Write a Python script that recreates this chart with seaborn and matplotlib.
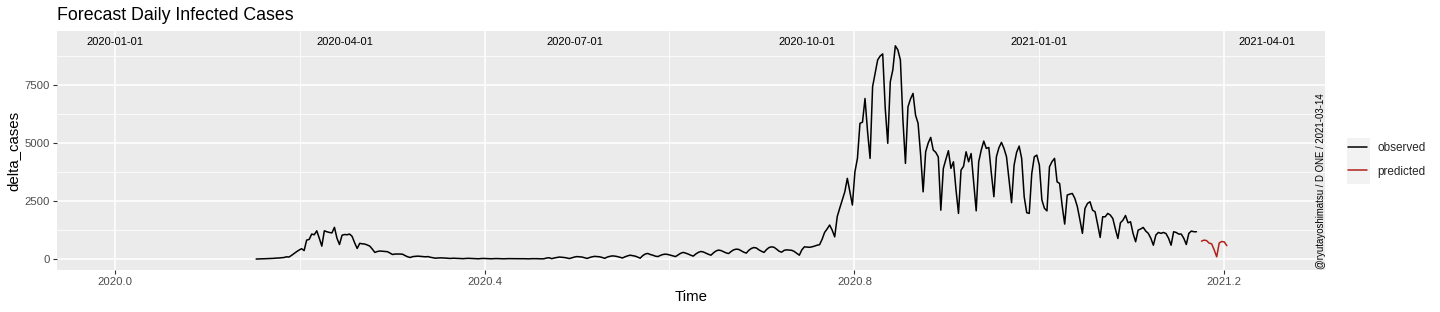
import numpy as np
import pandas as pd
import matplotlib
matplotlib.use("Agg")
import matplotlib.pyplot as plt
import seaborn as sns
from matplotlib.lines import Line2D
from matplotlib.patches import Rectangle

# ---------------- data ----------------
obs_start = "2020-02-26"
obs_values = [
    5, 8, 10, 15, 20, 25, 30, 35, 45, 50, 60, 70, 100, 90,
    160, 240, 320, 390, 450, 370, 820, 850, 1080, 1050,
    1220, 900, 560, 1220, 1180, 1150, 1130, 1370, 900, 630,
    1030, 1060, 1050, 1080, 980, 700, 460, 680, 660, 650,
    610, 560, 430, 290, 330, 350, 340, 330, 320, 260,
    200, 220, 220, 220, 210, 150, 100, 70, 110, 120,
    130, 120, 110, 100, 110, 80, 60, 40, 50, 55,
    50, 45, 35, 30, 40, 35, 30, 25, 20, 30,
    35, 30, 25, 20, 15, 25, 30, 25, 20, 15,
    20, 25, 20, 18, 15, 20, 22, 20, 15, 12,
    18, 20, 18, 15, 12, 20, 22, 20, 15, 12,
    18, 50, 60,
    20, 50, 70, 90, 80, 70, 50,
    25, 60, 90, 110, 100, 90, 60,
    30, 70, 100, 120, 110, 100, 70,
    35, 90, 120, 140, 130, 110, 80,
    50, 100, 140, 170, 150, 130, 90,
    40, 150, 220, 245, 200, 170, 130,
    110, 160, 200, 215, 200, 170, 140,
    110, 180, 250, 290, 260, 220, 170,
    130, 220, 290, 330, 310, 260, 210,
    170, 270, 350, 390, 370, 320, 270,
    240, 330, 400, 430, 420, 360, 300,
    260, 380, 460, 500, 480, 400, 340,
    290, 410, 500, 530, 510, 430, 340,
    300, 380, 400, 390, 380, 330, 250,
    170, 400, 530, 520, 510, 530, 560,
    600, 620, 850, 1150, 1300, 1470, 1250, 960, 1830, 2200, 2550, 2900,
    3480, 2900, 2330, 3760, 4340, 5850, 5900, 6920, 5500, 4340,
    7430, 8000, 8580, 8750, 8840, 6500, 4990, 7640, 8150, 9190,
    9010, 8580, 6000, 4125, 6560, 6900, 7140, 6200, 5850, 4500,
    2900, 4625, 5000, 5245, 4700, 4600, 4400, 2110, 3910, 4300,
    4670, 3910, 4195, 3000, 1970, 3835, 4000, 4625, 4195, 4550,
    3300, 2080, 4195, 4700, 5085, 4770, 4810, 3700, 2690, 4410,
    4800, 5030, 4770, 4410, 3400, 2430, 4050, 4600, 4870, 4340,
    2690, 2000, 1970, 3690, 4410, 4480, 4050, 2550, 2190, 2080,
    3980, 4200, 4340, 3330, 3260, 2300, 1510, 2760, 2800, 2830,
    2620, 2260, 1700, 1110, 2180, 2400, 2470, 2110, 2040, 1500,
    935, 1825, 1825, 1970, 1900, 1750, 1300, 890, 1565, 1680,
    1880, 1565, 1610, 1100, 750, 1250, 1300, 1365, 1210, 1110,
    900, 600, 1040, 1150, 1110, 1150, 1100, 900, 600, 1180,
    1150, 1080, 1080, 900, 630, 1110, 1210, 1180, 1180,
]
pred_start = "2021-03-06"
pred_values = [775, 820, 800, 690, 660, 400, 100, 700, 760, 740, 580]

date_labels = ["2020-01-01", "2020-04-01", "2020-07-01", "2020-10-01", "2021-01-01", "2021-04-01"]
label_y = 9360

series_names = ["observed", "predicted"]
series_colors = ["#000000", "#B2221C"]

title = "Forecast Daily Infected Cases"
x_title = "Time"
y_title = "delta_cases"
caption = "@ryutayoshimatsu / D ONE / 2021-03-14"


def decimal_year(dates):
    dates = pd.DatetimeIndex(dates)
    ndays = np.where(dates.is_leap_year, 366, 365)
    return dates.year + (dates.dayofyear - 1) / ndays


obs_dates = pd.date_range(obs_start, periods=len(obs_values), freq="D")
pred_dates = pd.date_range(pred_start, periods=len(pred_values), freq="D")
df = pd.concat([
    pd.DataFrame({"Time": decimal_year(obs_dates), "delta_cases": obs_values, "type": series_names[0]}),
    pd.DataFrame({"Time": decimal_year(pred_dates), "delta_cases": pred_values, "type": series_names[1]}),
], ignore_index=True)

label_x = decimal_year(pd.to_datetime(date_labels))

# ---------------- plot ----------------
sns.set_theme(style="darkgrid")
plt.rcParams["font.family"] = ["Liberation Sans", "DejaVu Sans"]

W, H = 1440, 312
fig = plt.figure(figsize=(W / 100, H / 100), dpi=100)
ax = fig.add_axes([57 / W, 1 - 270 / H, (1325 - 57) / W, (270 - 31) / H])
ax.set_facecolor("#EBEBEB")

sns.lineplot(data=df, x="Time", y="delta_cases", hue="type", hue_order=series_names,
             palette=dict(zip(series_names, series_colors)), linewidth=1.1,
             legend=False, ax=ax, zorder=3)

for lx, lt in zip(label_x, date_labels):
    ax.text(lx, label_y, lt, ha="center", va="center", fontsize=8, color="black", zorder=4)

xmin, xmax = label_x.min(), label_x.max()
xr = xmax - xmin
ax.set_xlim(xmin - 0.05 * xr, xmax + 0.05 * xr)
ymin, ymax = 0, label_y
yr = ymax - ymin
ax.set_ylim(ymin - 0.05 * yr, ymax + 0.05 * yr)

ax.set_xticks([2020.0, 2020.4, 2020.8, 2021.2])
ax.set_xticklabels(["2020.0", "2020.4", "2020.8", "2021.2"])
ax.set_xticks([2020.2, 2020.6, 2021.0], minor=True)
ax.set_yticks([0, 2500, 5000, 7500])
ax.set_yticklabels(["0", "2500", "5000", "7500"])
ax.set_yticks([1250, 3750, 6250, 8750], minor=True)

ax.grid(True, which="major", color="white", linewidth=1.1)
ax.grid(True, which="minor", color="white", linewidth=0.55)
ax.set_axisbelow(True)
for s in ax.spines.values():
    s.set_visible(False)

ax.tick_params(axis="both", which="major", length=3, width=0.8, color="#333333",
               labelsize=8.2, labelcolor="#4D4D4D", pad=2, bottom=True, left=True)
ax.tick_params(axis="both", which="minor", length=0)

ax.set_xlabel(x_title, fontsize=10.8, color="black", labelpad=2)
ax.set_ylabel(y_title, fontsize=10.8, color="black", labelpad=3)
ax.set_title(title, loc="left", fontsize=12.8, color="black", pad=8, x=0.0)

ax.text(0.9965, 0.005, caption, rotation=90, ha="center", va="bottom",
        fontsize=6.9, color="black", transform=ax.transAxes, zorder=4)

# legend
fig.patches.append(Rectangle((1347 / W, 1 - 184 / H), 23 / W, 46 / H,
                             transform=fig.transFigure, facecolor="#F2F2F2",
                             edgecolor="none", zorder=0))
handles = [Line2D([0], [0], color=c, lw=1.1) for c in series_colors]
fig.legend(handles, series_names, loc="center left", bbox_to_anchor=(1348 / W, 1 - 160 / H),
           frameon=False, fontsize=8.5, handlelength=1.65, handletextpad=0.85,
           labelspacing=0.95, borderpad=0, borderaxespad=0)

fig.savefig("out.png", dpi=100, facecolor="white")
